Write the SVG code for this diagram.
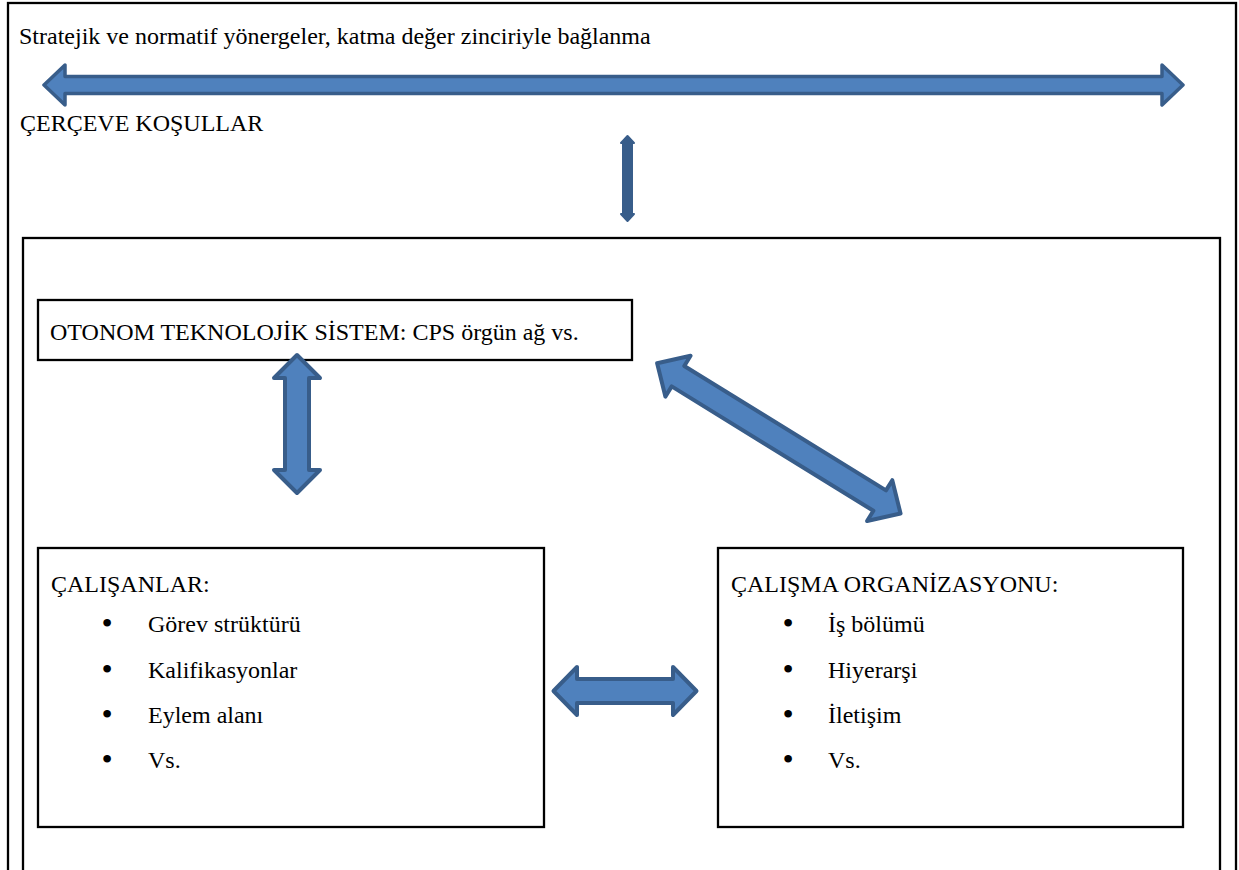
<svg xmlns="http://www.w3.org/2000/svg" width="1239" height="870" viewBox="0 0 1239 870">
<style>
.frame{fill:none;stroke:#000;stroke-width:2.3}
.box{fill:#fff;stroke:#000;stroke-width:2.3}
.t{font-family:"Liberation Serif","Times New Roman",serif;font-size:24px;fill:#000}
.bul{font-family:"Liberation Serif","Times New Roman",serif;font-size:32px;fill:#000;text-anchor:middle}
.arr{fill:#4f81bd;stroke:#385d8a;stroke-width:4;stroke-linejoin:round}
.arr-thin{fill:#385d8a;stroke:#385d8a;stroke-width:2;stroke-linejoin:round}
</style>
<rect width="1239" height="870" fill="#fff"/>
<g id="frame-outer">
<rect class="frame" x="8" y="3" width="1228" height="900"/>
<text class="t" x="19" y="44">Stratejik ve normatif yönergeler, katma değer zinciriyle bağlanma</text>
<text class="t" x="20" y="131">ÇERÇEVE KOŞULLAR</text>
</g>
<g id="frame-inner">
<rect class="frame" x="23" y="238" width="1197" height="700"/>
</g>
<g id="node-otonom">
<rect class="box" x="38" y="300" width="594" height="60"/>
<text class="t" x="50" y="340">OTONOM TEKNOLOJİK SİSTEM: CPS örgün ağ vs.</text>
</g>
<g id="node-calisanlar">
<rect class="box" x="38" y="548" width="506" height="279"/>
<text class="t" x="51" y="592">ÇALIŞANLAR:</text>
<text class="bul" x="107" y="634">•</text><text class="t" x="148" y="632">Görev strüktürü</text>
<text class="bul" x="107" y="680">•</text><text class="t" x="148" y="678">Kalifikasyonlar</text>
<text class="bul" x="107" y="725">•</text><text class="t" x="148" y="723">Eylem alanı</text>
<text class="bul" x="107" y="770">•</text><text class="t" x="148" y="768">Vs.</text>
</g>
<g id="node-organizasyon">
<rect class="box" x="718" y="548" width="465" height="279"/>
<text class="t" x="731" y="592">ÇALIŞMA ORGANİZASYONU:</text>
<text class="bul" x="788" y="634">•</text><text class="t" x="828" y="632">İş bölümü</text>
<text class="bul" x="788" y="680">•</text><text class="t" x="828" y="678">Hiyerarşi</text>
<text class="bul" x="788" y="725">•</text><text class="t" x="828" y="723">İletişim</text>
<text class="bul" x="788" y="770">•</text><text class="t" x="828" y="768">Vs.</text>
</g>
<g id="connectors">
<path class="arr" style="stroke-width:3.5" d="M44,85 L65,65 L65,76.5 L1162,76.5 L1162,65 L1183,85 L1162,105 L1162,93.5 L65,93.5 L65,105 Z"/>
<path class="arr-thin" d="M627.5,136 L634,143 L632,143 L632,214 L634,214 L627.5,221 L621,214 L623,214 L623,143 L621,143 Z"/>
<path class="arr" d="M297,355 L320,378 L309,378 L309,470 L320,470 L297,493 L274,470 L285,470 L285,378 L274,378 Z"/>
<path class="arr" d="M553.5,691 L577,667 L577,679 L673,679 L673,667 L696.5,691 L673,715 L673,703 L577,703 L577,715 Z"/>
<path class="arr" transform="translate(655,362) rotate(31.67)" d="M2.5,0 L27,-24 L27,-12 L264,-12 L264,-24 L288.5,0 L264,24 L264,12 L27,12 L27,24 Z"/>
</g>
</svg>
